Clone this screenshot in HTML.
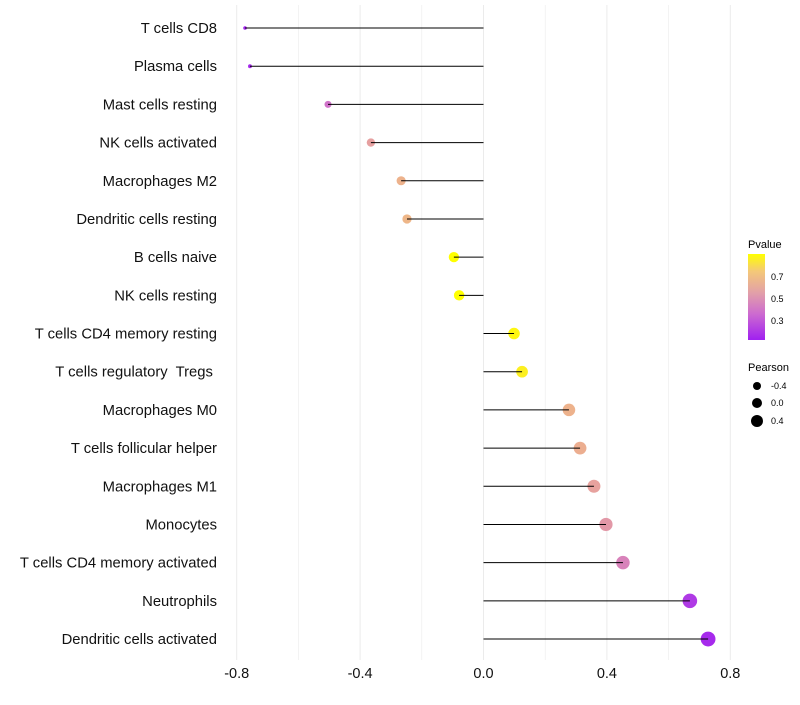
<!DOCTYPE html>
<html><head><meta charset="utf-8"><style>
body{margin:0;background:#fff;font-family:"Liberation Sans",sans-serif}
text{white-space:pre}
</style></head><body>
<svg id="chart" width="800" height="700" xmlns="http://www.w3.org/2000/svg" font-family="Liberation Sans, sans-serif">
<g id="grid"></g>
<g id="marks"></g>
<g id="yaxis"></g>
<g id="xaxis"></g>
<g>
<defs><linearGradient id="pg" x1="0" y1="1" x2="0" y2="0">
<stop offset="0" stop-color="#a020f0"/><stop offset="0.3" stop-color="#cc6ad0"/><stop offset="0.55" stop-color="#e2a0a8"/><stop offset="0.8" stop-color="#f4c878"/><stop offset="1" stop-color="#ffff00"/></linearGradient></defs>
<text x="748" y="248" font-size="11">Pvalue</text>
<rect x="748" y="254" width="17" height="86" fill="url(#pg)"/>
<text x="771" y="280" font-size="9">0.7</text>
<text x="771" y="302" font-size="9">0.5</text>
<text x="771" y="324" font-size="9">0.3</text>
<text x="748" y="371" font-size="11">Pearson</text>
<circle cx="757" cy="386" r="4"/>
<text x="771" y="389" font-size="9">-0.4</text>
<circle cx="757" cy="403" r="5"/>
<text x="771" y="406" font-size="9">0.0</text>
<circle cx="757" cy="421" r="6"/>
<text x="771" y="424" font-size="9">0.4</text>
</g>
</svg>
<script>
const categories=["T cells CD8","Plasma cells","Mast cells resting","NK cells activated","Macrophages M2","Dendritic cells resting","B cells naive","NK cells resting","T cells CD4 memory resting","T cells regulatory  Tregs ","Macrophages M0","T cells follicular helper","Macrophages M1","Monocytes","T cells CD4 memory activated","Neutrophils","Dendritic cells activated"];
const pearson=[-0.773,-0.757,-0.504,-0.365,-0.267,-0.248,-0.096,-0.079,0.099,0.125,0.277,0.313,0.358,0.397,0.452,0.669,0.728];
const pvalue=[0.13,0.15,0.38,0.55,0.65,0.67,0.9,0.9,0.88,0.86,0.65,0.63,0.56,0.52,0.44,0.2,0.15];
const xTicks=[-0.8,-0.4,0.0,0.4,0.8];
const xTickLabels=["-0.8","-0.4","0.0","0.4","0.8"];
const NS="http://www.w3.org/2000/svg";
const x=v=>483.5+v*308.5;
const y=i=>28+i*38.19;
const rOf=v=>Math.sqrt(3+(v+0.78)/1.51*52);
const stops=[[0.12,[160,32,240]],[0.35,[204,106,208]],[0.55,[230,160,160]],[0.75,[244,196,120]],[0.9,[255,255,0]]];
function col(p){p=Math.max(0.12,Math.min(0.9,p));for(let k=0;k<stops.length-1;k++){const [a,ca]=stops[k],[b,cb]=stops[k+1];if(p<=b){const t=(p-a)/(b-a);return "rgb("+ca.map((c,j)=>Math.round(c+(cb[j]-c)*t)).join(",")+")";}}return "rgb(255,255,0)";}
function mk(g,tag,at){const e=document.createElementNS(NS,tag);for(const k in at)e.setAttribute(k,at[k]);document.getElementById(g).appendChild(e);return e;}
for(let v=-0.8;v<=0.81;v+=0.2){const l=mk("grid","line",{x1:x(v),x2:x(v),y1:5,y2:660,stroke:"#ebebeb","stroke-width":Math.abs(Math.round(v*10))%4===0?1:0.6});

}
categories.forEach((c,i)=>{
const ci=mk("marks","circle",{cx:x(pearson[i]),cy:y(i),r:rOf(pearson[i]),fill:col(pvalue[i])});


const ln=mk("marks","line",{x1:x(0),x2:x(pearson[i]),y1:y(i),y2:y(i),stroke:"#000","stroke-width":1});


const t=mk("yaxis","text",{x:217,y:y(i)+5,"text-anchor":"end","font-size":14.8,fill:"#111"});


t.textContent=c;
});
xTicks.forEach((v,i)=>{const t=mk("xaxis","text",{x:x(v),y:678,"text-anchor":"middle","font-size":14.5,fill:"#111"});


t.textContent=xTickLabels[i];});
</script>
</body></html>
